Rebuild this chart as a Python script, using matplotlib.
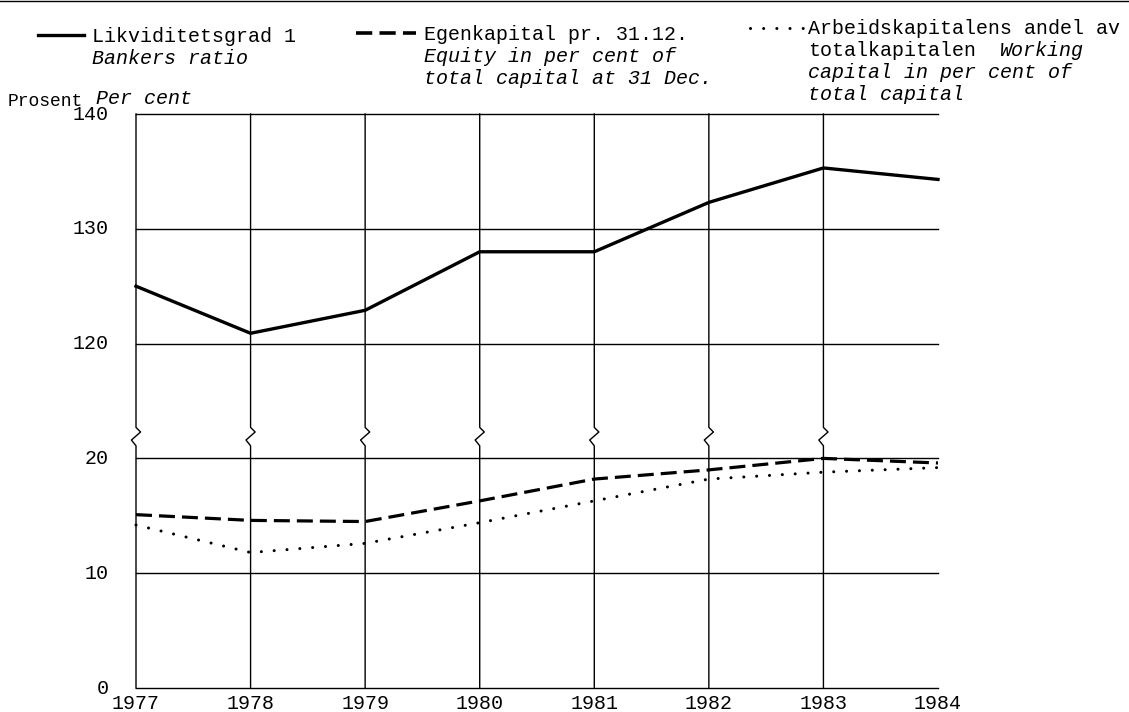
import matplotlib
matplotlib.use("Agg")
import matplotlib.pyplot as plt

# data
years = ["1977", "1978", "1979", "1980", "1981", "1982", "1983", "1984"]
likviditet = [125.0, 120.9, 122.9, 128.0, 128.0, 132.3, 135.3, 134.3]
egenkapital = [15.1, 14.6, 14.5, 16.3, 18.2, 19.0, 20.0, 19.6]
arbeidskap = [14.2, 11.8, 12.6, 14.4, 16.3, 18.2, 18.8, 19.2]

upper_ticks = [120, 130, 140]
lower_ticks = [0, 10, 20]
BREAK_SHIFT = 90  # 120 on the upper scale sits where 30 would be

xpos = list(range(len(years)))

FONT = "Liberation Mono"
plt.rcParams["font.family"] = [FONT, "DejaVu Sans Mono"]

fig = plt.figure(figsize=(11.29, 7.12), dpi=100)
left = 136 / 1129
right = 938 / 1129
bottom = 1 - 688 / 712
top = 1 - 114 / 712
ax = fig.add_axes([left, bottom, right - left, top - bottom])
ax.set_xlim(0, xpos[-1])
ax.set_ylim(0, 50)
for s in ax.spines.values():
    s.set_visible(False)
ax.set_xticks([])
ax.set_yticks([])
ax.patch.set_alpha(0)

# horizontal grid lines
for v in lower_ticks:
    ax.plot([0, xpos[-1]], [v, v], color="black", lw=1.0, zorder=1, clip_on=False)
for v in upper_ticks:
    ax.plot([0, xpos[-1]], [v - BREAK_SHIFT, v - BREAK_SHIFT], color="black",
            lw=1.0, zorder=1, clip_on=False)

# vertical lines with the little break zigzag (no line at 1984)
dx = 0.04
for x in xpos[:-1]:
    ax.plot([x, x, x + dx, x - dx, x, x], [50, 22.7, 22.3, 21.6, 21.1, 0],
            color="black", lw=1.0, zorder=1, clip_on=False)

# series
upper_y = [v - BREAK_SHIFT for v in likviditet]
ax.plot(xpos, upper_y, color="black", lw=2.4, zorder=3, clip_on=False)
ax.plot(xpos, egenkapital, color="black", lw=2.3, zorder=3,
        linestyle=(0, (5, 2.2)), clip_on=False)
ax.plot(xpos, arbeidskap, color="black", lw=2.2, zorder=3,
        linestyle=(0, (0.01, 4.2)), dash_capstyle="round", clip_on=False)

fs = 14.4

# tick labels
for v in lower_ticks:
    ax.text(-0.24, v, str(v), ha="right", va="center", fontsize=fs)
for v in upper_ticks:
    ax.text(-0.24, v - BREAK_SHIFT, str(v), ha="right", va="center", fontsize=fs)
for x, lab in zip(xpos, years):
    ax.text(x, -0.5, lab, ha="center", va="top", fontsize=fs)

# overlay in pixel coordinates for legend / axis title
ov = fig.add_axes([0, 0, 1, 1])
ov.set_xlim(0, 1129)
ov.set_ylim(712, 0)
ov.axis("off")
ov.patch.set_alpha(0)

ov.plot([38, 84], [35, 35], color="black", lw=2.4)
ov.text(92, 36, "Likviditetsgrad 1", fontsize=fs, va="center")
ov.text(92, 58, "Bankers ratio", fontsize=fs, style="italic", va="center")

ov.plot([356, 416], [33, 33], color="black", lw=2.6, linestyle=(0, (4.5, 2)))
ov.text(424, 34, "Egenkapital pr. 31.12.", fontsize=fs, va="center")
ov.text(424, 56, "Equity in per cent of", fontsize=fs, style="italic", va="center")
ov.text(424, 78, "total capital at 31 Dec.", fontsize=fs, style="italic", va="center")

ov.plot([750, 803], [28, 28], color="black", lw=2.2, linestyle=(0, (0.01, 4.3)),
        dash_capstyle="round")
ov.text(808, 28, "Arbeidskapitalens andel av", fontsize=fs, va="center")
ov.text(808, 50, "totalkapitalen", fontsize=fs, va="center")
ov.text(1000, 50, "Working", fontsize=fs, style="italic", va="center")
ov.text(808, 72, "capital in per cent of", fontsize=fs, style="italic", va="center")
ov.text(808, 94, "total capital", fontsize=fs, style="italic", va="center")

ov.text(8, 101, "Prosent", fontsize=13, va="center")
ov.text(96, 99, "Per cent", fontsize=fs, style="italic", va="center")

# thin rule along the very top edge of the scan
ov.plot([0, 1129], [1, 1], color="black", lw=1.0)

fig.savefig("out.png", dpi=100)
